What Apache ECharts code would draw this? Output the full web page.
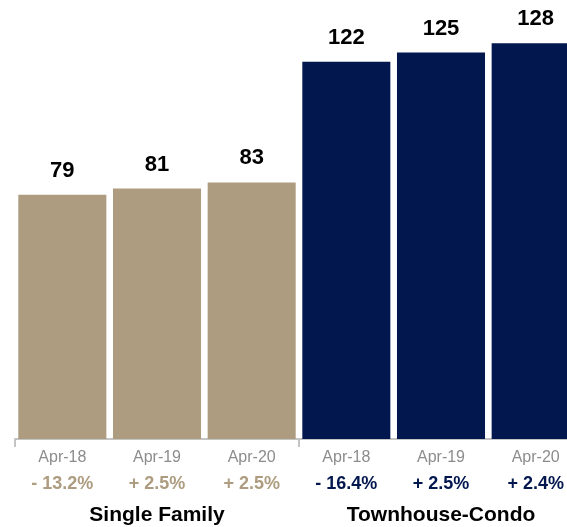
<!DOCTYPE html>
<html><head><meta charset="utf-8">
<script src="https://cdn.jsdelivr.net/npm/echarts@6/dist/echarts.min.js"></script>
<style>html,body{margin:0;padding:0;background:#fff}#c{width:567px;height:527px}</style>
</head><body><div id="c"></div>
<script>
const months = ['Apr-18','Apr-19','Apr-20','Apr-18','Apr-19','Apr-20'];
const changes = ['- 13.2%','+ 2.5%','+ 2.5%','- 16.4%','+ 2.5%','+ 2.4%'];
const groups = ['Single Family','Townhouse-Condo'];
const values = [79, 81, 83, 122, 125, 128];

const TAN = '#AD9C7F', NAVY = '#03174F';
const FONT = '"Liberation Sans", Arial, sans-serif';

const chart = echarts.init(document.getElementById('c'), null, {renderer:'canvas'});
chart.setOption({
  animation: false,
  grid: {left: 15, width: 568, top: 0, bottom: 88, containLabel: false, outerBoundsMode: 'none'},
  xAxis: [{
    type: 'category', data: months.map((m,i)=>i), boundaryGap: true,
    axisLine: {show: true, lineStyle: {color: '#c4c4c4', width: 2}},
    axisTick: {show: true, length: 8, interval: (i) => i === 0 || i === 3, lineStyle: {color: '#c4c4c4', width: 2}},
    axisLabel: {
      interval: 0, margin: 6, fontFamily: FONT,
      formatter: (v, i) => '{m|' + months[i] + '}\n' + (i < 3 ? '{t|' : '{n|') + changes[i] + '}',
      rich: {
        m: {fontSize: 16, color: '#8c8c8c', lineHeight: 26, fontFamily: FONT},
        t: {fontSize: 18, fontWeight: 'bold', color: TAN, lineHeight: 26, fontFamily: FONT},
        n: {fontSize: 18, fontWeight: 'bold', color: NAVY, lineHeight: 26, fontFamily: FONT}
      }
    }
  }, {
    type: 'category', data: groups, position: 'bottom', offset: 65, boundaryGap: true,
    axisLine: {show: false}, axisTick: {show: false},
    axisLabel: {interval: 0, margin: 0, fontSize: 21, fontWeight: 'bold', color: '#000', fontFamily: FONT, lineHeight: 22}
  }],
  yAxis: {type: 'value', min: 0, max: 142, show: false, splitLine: {show: false}},
  series: [{
    type: 'bar', xAxisIndex: 0, barCategoryGap: '7%',
    data: values.map((v,i) => ({value: v, itemStyle: {color: i < 3 ? TAN : NAVY}})),
    label: {show: true, position: 'top', distance: 13, fontSize: 22, fontWeight: 'bold', color: '#000', fontFamily: FONT}
  }]
});
</script></body></html>
